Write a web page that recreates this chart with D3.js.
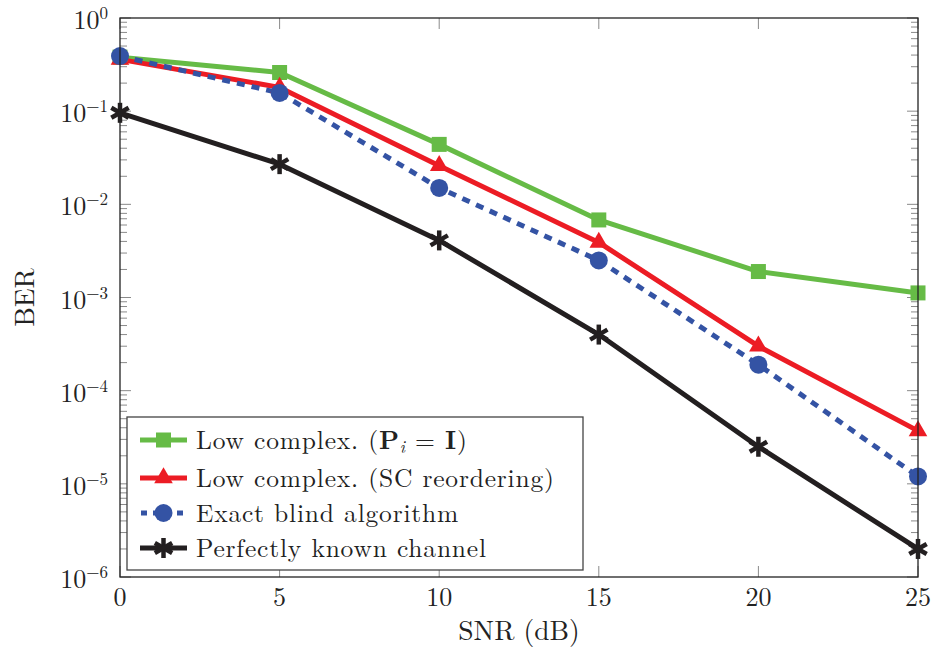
<!DOCTYPE html>
<html><head><meta charset="utf-8">
<script src="https://cdn.jsdelivr.net/npm/d3@7"></script>
<style>body{margin:0;background:#fff}</style>
</head><body><svg id="c" width="936" height="658"></svg>
<script>
const snr = [0, 5, 10, 15, 20, 25];
const berPiI = [0.38, 0.26, 0.044, 0.0068, 0.0019, 0.00112];
const berSC = [0.36, 0.18, 0.026, 0.0039, 0.0003, 3.7e-5];
const berExact = [0.39, 0.157, 0.015, 0.0025, 1.9e-4, 1.2e-5];
const berKnown = [0.096, 0.027, 0.0041, 4.0e-4, 2.5e-5, 2.0e-6];
const xTicks = [0, 5, 10, 15, 20, 25];
const yExps = [0, -1, -2, -3, -4, -5, -6];
const seriesNames = ["Low complex. (P_i = I)", "Low complex. (SC reordering)", "Exact blind algorithm", "Perfectly known channel"];

const font = "'Latin Modern Roman','CMU Serif','Liberation Serif','DejaVu Serif',serif";
const svg = d3.select("#c");
const L = 120, R = 918, T = 18, B = 577;
const x = d3.scaleLinear().domain([0, 25]).range([L, R]);
const y = d3.scaleLog().domain([1e-6, 1]).range([B, T]);

const series = [
  {name: seriesNames[0], data: berPiI, color: "#66bb46", marker: "square", dash: null},
  {name: seriesNames[1], data: berSC, color: "#ec1c24", marker: "triangle", dash: null},
  {name: seriesNames[2], data: berExact, color: "#3453a4", marker: "circle", dash: "8,7"},
  {name: seriesNames[3], data: berKnown, color: "#231f20", marker: "star", dash: null}
];

const g = svg.append("g");
const tickCol = "#8a8a8a";
for (let e = -6; e < 0; e++) {
  for (let m = 2; m <= 9; m++) {
    const yy = y(m * Math.pow(10, e));
    g.append("line").attr("x1", L).attr("x2", L + 7).attr("y1", yy).attr("y2", yy).attr("stroke", tickCol).attr("stroke-width", 1);
    g.append("line").attr("x1", R).attr("x2", R - 7).attr("y1", yy).attr("y2", yy).attr("stroke", tickCol).attr("stroke-width", 1);
  }
}
yExps.forEach(e => {
  const yy = y(Math.pow(10, e));
  g.append("line").attr("x1", L).attr("x2", L + 11).attr("y1", yy).attr("y2", yy).attr("stroke", tickCol).attr("stroke-width", 1);
  g.append("line").attr("x1", R).attr("x2", R - 11).attr("y1", yy).attr("y2", yy).attr("stroke", tickCol).attr("stroke-width", 1);
  const t = g.append("text").attr("x", L - 12).attr("y", yy + 11).attr("text-anchor", "end")
    .attr("font-family", font).attr("font-size", 26).attr("fill", "#222");
  t.append("tspan").text("10");
  t.append("tspan").attr("dy", -10).attr("font-size", 17).text(e === 0 ? "0" : "\u2212" + (-e));
});
xTicks.forEach(v => {
  const xx = x(v);
  g.append("line").attr("x1", xx).attr("x2", xx).attr("y1", B).attr("y2", B - 11).attr("stroke", tickCol);
  g.append("line").attr("x1", xx).attr("x2", xx).attr("y1", T).attr("y2", T + 11).attr("stroke", tickCol);
  g.append("text").attr("x", xx).attr("y", 606).attr("text-anchor", "middle")
    .attr("font-family", font).attr("font-size", 26).attr("fill", "#222").text(v);
});

const line = d3.line().x((d, i) => x(snr[i])).y(d => y(d));
function marker(sel, type, color, cx, cy) {
  if (type === "square") {
    sel.append("rect").attr("x", cx - 7.5).attr("y", cy - 7.5).attr("width", 15).attr("height", 15).attr("fill", color);
  } else if (type === "triangle") {
    sel.append("path").attr("d", d3.symbol().type(d3.symbolTriangle).size(150)()).attr("transform", `translate(${cx},${cy})`).attr("fill", color);
  } else if (type === "circle") {
    sel.append("circle").attr("cx", cx).attr("cy", cy).attr("r", 9).attr("fill", color);
  } else {
    const s = 10;
    const gg = sel.append("g").attr("transform", `translate(${cx},${cy})`).attr("stroke", color).attr("stroke-width", 4.5);
    [0, 60, 120].forEach(a => {
      const r = a * Math.PI / 180;
      gg.append("line").attr("x1", -s * Math.sin(r)).attr("y1", -s * Math.cos(r)).attr("x2", s * Math.sin(r)).attr("y2", s * Math.cos(r));
    });
  }
}
series.forEach(s => {
  g.append("path").datum(s.data).attr("d", line).attr("fill", "none").attr("stroke", s.color)
    .attr("stroke-width", 5).attr("stroke-dasharray", s.dash).attr("stroke-linejoin", "round");
});
series.forEach(s => {
  s.data.forEach((d, i) => marker(g, s.marker, s.color, x(snr[i]), y(d)));
});

g.append("rect").attr("x", L).attr("y", T).attr("width", R - L).attr("height", B - T)
  .attr("fill", "none").attr("stroke", "#222").attr("stroke-width", 1.3);

const lg = g.append("g");
lg.append("rect").attr("x", 127).attr("y", 417).attr("width", 456).attr("height", 153)
  .attr("fill", "#fff").attr("stroke", "#444").attr("stroke-width", 1.3);
const rows = [440, 478, 513, 548];
series.forEach((s, i) => {
  const yy = rows[i];
  lg.append("line").attr("x1", 140).attr("x2", 187).attr("y1", yy).attr("y2", yy)
    .attr("stroke", s.color).attr("stroke-width", 5).attr("stroke-dasharray", s.dash ? "6,6" : null)
    .attr("stroke-dashoffset", s.dash ? -1 : null);
  marker(lg, s.marker, s.color, 163.5, yy);
  const t = lg.append("text").attr("x", 196).attr("y", yy + 9).attr("font-family", font)
    .attr("font-size", 25.5).attr("letter-spacing", 0.8).attr("fill", "#222");
  if (i === 0) {
    t.append("tspan").text("Low complex. (");
    t.append("tspan").attr("font-weight", "bold").text("P");
    t.append("tspan").attr("font-style", "italic").attr("font-size", 17).attr("dy", 4).text("i");
    t.append("tspan").attr("dy", -4).text(" = ");
    t.append("tspan").attr("font-weight", "bold").text("I");
    t.append("tspan").text(")");
  } else {
    t.text(s.name);
  }
});

g.append("text").attr("x", (L + R) / 2).attr("y", 640).attr("text-anchor", "middle")
  .attr("font-family", font).attr("font-size", 27.5).attr("fill", "#222").text("SNR (dB)");
g.append("text").attr("transform", `translate(34,${(T + B) / 2}) rotate(-90)`).attr("text-anchor", "middle")
  .attr("font-family", font).attr("font-size", 27.5).attr("fill", "#222").text("BER");
</script></body></html>
